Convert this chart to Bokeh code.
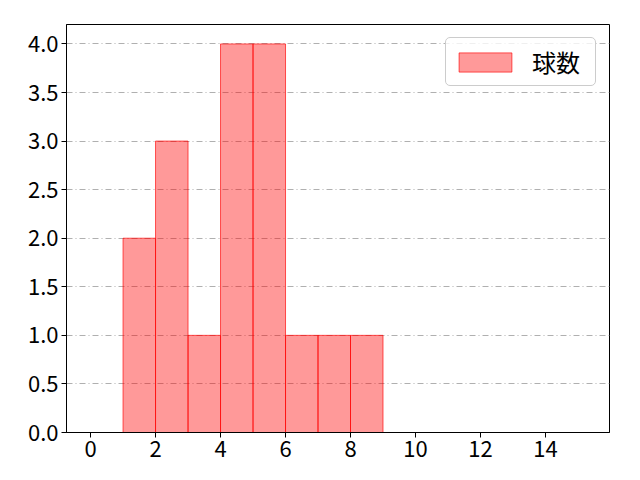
from bokeh.plotting import figure
from bokeh.models import Range1d, FixedTicker, Legend, LegendItem, NumeralTickFormatter
from bokeh.embed import file_html
from bokeh.resources import INLINE

bin_left = [1, 2, 3, 4, 5, 6, 7, 8]
bin_right = [2, 3, 4, 5, 6, 7, 8, 9]
counts = [2, 3, 1, 4, 4, 1, 1, 1]
x_ticks = [0, 2, 4, 6, 8, 10, 12, 14]
y_ticks = [0, 0.5, 1.0, 1.5, 2.0, 2.5, 3.0, 3.5, 4.0]
series_name = "球数"

FONT = "Noto Sans CJK JP"

p = figure(width=632, height=472, output_backend="svg", toolbar_location=None,
           x_range=Range1d(-0.74, 15.97), y_range=Range1d(0, 4.2),
           min_border_left=66, min_border_right=23, min_border_top=24, min_border_bottom=40)

r = p.quad(left=bin_left, right=bin_right, top=counts, bottom=0,
           fill_color="red", fill_alpha=0.4, line_color="red", line_alpha=0.65, line_width=1)

p.xaxis.ticker = FixedTicker(ticks=x_ticks)
p.yaxis.ticker = FixedTicker(ticks=y_ticks)
p.yaxis.formatter = NumeralTickFormatter(format="0.0")
for ax in (p.xaxis[0], p.yaxis[0]):
    ax.major_label_text_font = FONT
    ax.major_label_text_font_size = "22px"
    ax.major_label_text_color = "black"
    ax.axis_line_color = "black"
    ax.major_tick_line_color = "black"
    ax.major_tick_out = 5
    ax.major_tick_in = 0
    ax.minor_tick_line_color = None
    ax.major_label_standoff = 3

p.xgrid.grid_line_color = None
p.ygrid.grid_line_color = "#b0b0b0"
p.ygrid.grid_line_dash = "6 3 1 3"
p.ygrid.grid_line_width = 1

p.outline_line_color = "black"
p.outline_line_width = 1
p.outline_line_alpha = 1
p.background_fill_color = "white"
p.border_fill_color = "white"

legend = Legend(items=[LegendItem(label=series_name, renderers=[r])], location="top_right")
legend.label_text_font = FONT
legend.label_text_font_size = "24px"
legend.label_text_color = "black"
legend.glyph_width = 66
legend.glyph_height = 24
legend.label_standoff = 14
legend.label_width = 57
legend.padding = 6
legend.spacing = 0
legend.margin = 13
legend.border_line_color = "#cccccc"
legend.border_line_alpha = 1
legend.border_radius = 5
legend.background_fill_alpha = 0.8
p.add_layout(legend)

open("out.html", "w").write(file_html(p, INLINE))
